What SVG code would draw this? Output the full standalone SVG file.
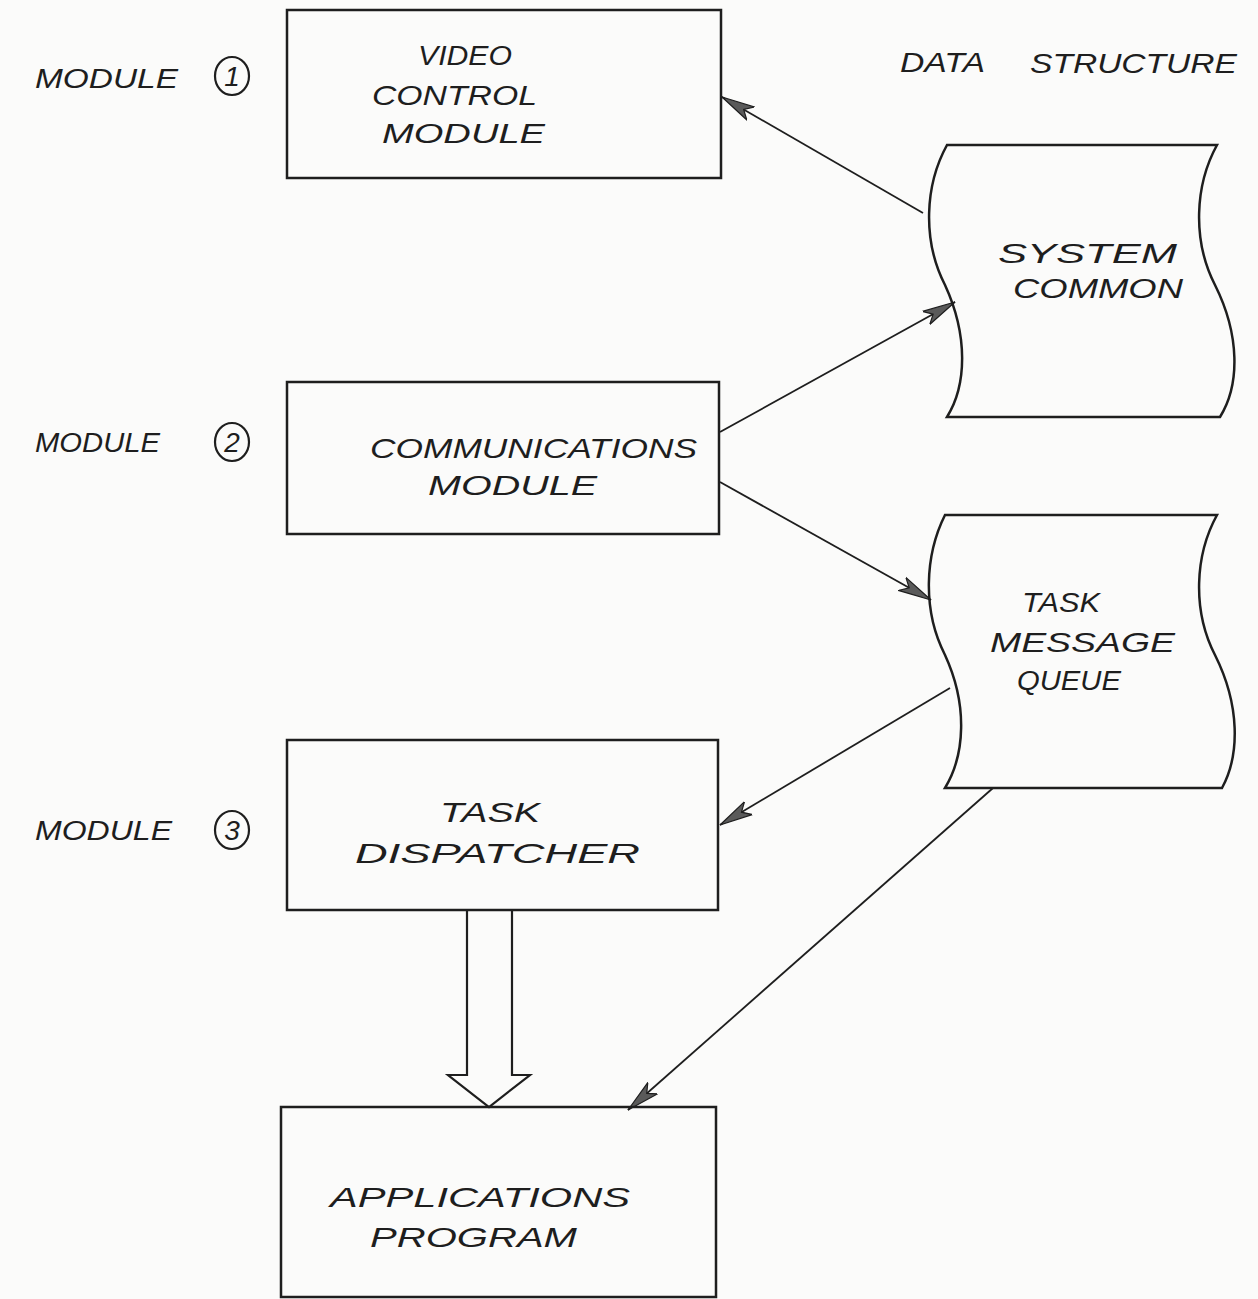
<svg xmlns="http://www.w3.org/2000/svg" width="1258" height="1299" viewBox="0 0 1258 1299">
<style>
.bg{fill:#fbfbfa}
.box{fill:none;stroke:#1e1e1e;stroke-width:2.5}
.ds{fill:none;stroke:#1e1e1e;stroke-width:2.5}
.t{font-family:"Liberation Sans",Arial,sans-serif;font-style:italic;font-size:28px;fill:#1e1e1e}
.num{font-family:"Liberation Sans",Arial,sans-serif;font-style:italic;font-size:28px;fill:#1e1e1e;text-anchor:middle}
.circ{fill:none;stroke:#1e1e1e;stroke-width:2.2}
.conn{fill:none;stroke:#1e1e1e;stroke-width:1.8}
.block{fill:#fbfbfa;stroke:#1e1e1e;stroke-width:2.2}
</style>
<defs>
<marker id="ah" viewBox="0 0 34 18" markerWidth="34" markerHeight="18" refX="33" refY="9" orient="auto" markerUnits="userSpaceOnUse">
<path d="M0,1.5 L33,9 L0,16.5 L8,9 Z" fill="#5a5a5a" stroke="#1e1e1e" stroke-width="1.2"/>
</marker>
</defs>
<rect class="bg" x="0" y="0" width="1258" height="1299"/>

<g id="label-module-1">
<text class="t" x="35" y="88" textLength="143" lengthAdjust="spacingAndGlyphs">MODULE</text>
<ellipse class="circ" cx="232" cy="76" rx="17" ry="19"/>
<text class="num" x="232" y="86">1</text>
</g>
<g id="label-module-2">
<text class="t" x="35" y="452" textLength="125" lengthAdjust="spacingAndGlyphs">MODULE</text>
<ellipse class="circ" cx="232" cy="442" rx="17" ry="19"/>
<text class="num" x="232" y="452">2</text>
</g>
<g id="label-module-3">
<text class="t" x="35" y="840" textLength="137" lengthAdjust="spacingAndGlyphs">MODULE</text>
<ellipse class="circ" cx="232" cy="830" rx="17" ry="19"/>
<text class="num" x="232" y="840">3</text>
</g>
<g id="label-data-structure">
<text class="t" x="900" y="72" textLength="85" lengthAdjust="spacingAndGlyphs">DATA</text>
<text class="t" x="1030" y="73" textLength="207" lengthAdjust="spacingAndGlyphs">STRUCTURE</text>
</g>

<g id="connectors">
<line class="conn" x1="923" y1="213" x2="722" y2="97" marker-end="url(#ah)"/>
<line class="conn" x1="720" y1="432" x2="955" y2="302" marker-end="url(#ah)"/>
<line class="conn" x1="720" y1="482" x2="931" y2="600" marker-end="url(#ah)"/>
<line class="conn" x1="950" y1="688" x2="720" y2="825" marker-end="url(#ah)"/>
<line class="conn" x1="993" y1="788" x2="628" y2="1110" marker-end="url(#ah)"/>
<path class="block" d="M467,910 L467,1075 L448,1075 L489,1107 L530,1075 L512,1075 L512,910"/>
</g>

<g id="node-video-control">
<rect class="box" x="287" y="10" width="434" height="168"/>
<text class="t" x="418" y="65" textLength="94" lengthAdjust="spacingAndGlyphs">VIDEO</text>
<text class="t" x="372" y="105" textLength="165" lengthAdjust="spacingAndGlyphs">CONTROL</text>
<text class="t" x="382" y="143" textLength="163" lengthAdjust="spacingAndGlyphs">MODULE</text>
</g>

<g id="node-communications">
<rect class="box" x="287" y="382" width="432" height="152"/>
<text class="t" x="370" y="458" textLength="327" lengthAdjust="spacingAndGlyphs">COMMUNICATIONS</text>
<text class="t" x="428" y="495" textLength="169" lengthAdjust="spacingAndGlyphs">MODULE</text>
</g>

<g id="node-task-dispatcher">
<rect class="box" x="287" y="740" width="431" height="170"/>
<text class="t" x="440" y="822" textLength="100" lengthAdjust="spacingAndGlyphs">TASK</text>
<text class="t" x="355" y="863" textLength="285" lengthAdjust="spacingAndGlyphs">DISPATCHER</text>
</g>

<g id="node-applications-program">
<rect class="box" x="281" y="1107" width="435" height="190"/>
<text class="t" x="330" y="1207" textLength="300" lengthAdjust="spacingAndGlyphs">APPLICATIONS</text>
<text class="t" x="370" y="1247" textLength="207" lengthAdjust="spacingAndGlyphs">PROGRAM</text>
</g>

<g id="node-system-common">
<path class="ds" d="M947,145 L1217,145 C1195,185 1192,240 1215,285 C1240,335 1240,385 1220,417 L947,417 C967,385 968,335 945,285 C922,240 925,185 947,145 Z"/>
<text class="t" x="998" y="263" textLength="179" lengthAdjust="spacingAndGlyphs">SYSTEM</text>
<text class="t" x="1013" y="298" textLength="170" lengthAdjust="spacingAndGlyphs">COMMON</text>
</g>

<g id="node-task-message-queue">
<path class="ds" d="M945,515 L1217,515 C1195,555 1192,610 1215,655 C1240,705 1240,755 1222,788 L945,788 C965,755 968,705 945,655 C922,610 925,555 945,515 Z"/>
<text class="t" x="1022" y="612" textLength="78" lengthAdjust="spacingAndGlyphs">TASK</text>
<text class="t" x="990" y="652" textLength="185" lengthAdjust="spacingAndGlyphs">MESSAGE</text>
<text class="t" x="1017" y="690" textLength="104" lengthAdjust="spacingAndGlyphs">QUEUE</text>
</g>
</svg>
